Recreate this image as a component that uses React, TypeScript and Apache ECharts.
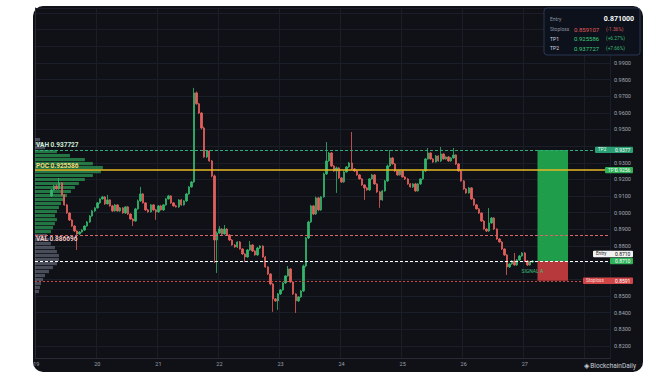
import React, { useEffect, useRef } from 'react';
import * as echarts from 'echarts';

// ---- axis / time labels ----
const dayLabels = ['19', '20', '21', '22', '23', '24', '25', '26', '27', '28'];
const hoursOnLastDay = 10;
const firstCandleHour = 6;

// ---- trade levels ----
const ENTRY = 0.871;
const STOP = 0.859107;
const TP1 = 0.925586;
const TP2 = 0.937727;
const VAH = 0.937727;
const POC = 0.925586;
const VAL = 0.886696;
const pctLabels = ['(-1.36%)', '(+6.27%)', '(+7.66%)'];
// axis ticks hidden behind the info box / price tags in the reference
const hiddenTicks = ['0.8600', '0.8700', '0.9400', '1.0000', '1.0100', '1.0200'];

// ---- hourly candles: closes per day, wicks in 0.0001 units ----
const open19 = 0.9101;
const close19 = [0.9137, 0.9161, 0.9143, 0.9179, 0.9107, 0.9047, 0.8998, 0.8956, 0.8920, 0.8890, 0.8872, 0.8884, 0.8896, 0.8920, 0.8944, 0.8980, 0.9011, 0.9029];
const up19 = [5, 6, 8, 30, 5, 4, 6, 4, 5, 4, 4, 6, 5, 4, 6, 5, 6, 4];
const dn19 = [6, 5, 4, 5, 6, 5, 4, 6, 5, 6, 96, 5, 4, 6, 4, 5, 4, 6];

const close20 = [0.9059, 0.9083, 0.9095, 0.9053, 0.9077, 0.9041, 0.9011, 0.9047, 0.9011, 0.9029, 0.8998, 0.9035, 0.8992, 0.8962, 0.8950, 0.9023, 0.9071, 0.9113, 0.9059, 0.9017, 0.9005, 0.9047, 0.9017, 0.9005];
const up20 = [5, 4, 6, 5, 30, 4, 6, 5, 4, 6, 5, 4, 6, 4, 5, 6, 8, 42, 5, 4, 6, 5, 4, 6];
const dn20 = [4, 6, 5, 6, 4, 5, 6, 4, 5, 6, 4, 5, 6, 5, 30, 4, 5, 6, 4, 6, 5, 4, 6, 48];

const close21 = [0.9041, 0.9017, 0.9047, 0.9083, 0.9101, 0.9059, 0.9041, 0.9035, 0.9077, 0.9047, 0.9071, 0.9113, 0.9155, 0.9185, 0.9720, 0.9654, 0.9599, 0.9509, 0.9335, 0.9371, 0.9311, 0.9221, 0.8836, 0.8878];
const up21 = [5, 6, 4, 5, 6, 4, 5, 6, 4, 6, 5, 6, 5, 6, 30, 8, 6, 5, 8, 6, 5, 6, 8, 10];
const dn21 = [5, 4, 6, 5, 4, 6, 5, 4, 6, 5, 4, 6, 5, 4, 6, 5, 6, 8, 5, 6, 5, 8, 138, 198];

const close22 = [0.8902, 0.8872, 0.8902, 0.8866, 0.8836, 0.8806, 0.8794, 0.8824, 0.8782, 0.8752, 0.8734, 0.8776, 0.8806, 0.8770, 0.8746, 0.8788, 0.8800, 0.8734, 0.8674, 0.8632, 0.8572, 0.8482, 0.8470, 0.8512];
const up22 = [18, 6, 24, 5, 4, 6, 5, 4, 6, 5, 4, 6, 24, 5, 4, 6, 5, 4, 6, 5, 4, 6, 5, 6];
const dn22 = [5, 6, 4, 5, 6, 4, 5, 6, 4, 5, 30, 4, 5, 6, 4, 5, 6, 4, 5, 6, 8, 78, 6, 54];

const close23 = [0.8536, 0.8578, 0.8620, 0.8662, 0.8584, 0.8512, 0.8470, 0.8494, 0.8530, 0.8680, 0.8848, 0.8944, 0.9041, 0.8992, 0.9089, 0.9017, 0.9095, 0.9233, 0.9311, 0.9359, 0.9281, 0.9251, 0.9269, 0.9209];
const up23 = [5, 6, 4, 18, 5, 6, 4, 5, 6, 8, 6, 8, 6, 5, 8, 6, 5, 8, 114, 6, 5, 6, 8, 5];
const dn23 = [6, 5, 6, 4, 5, 6, 72, 6, 5, 6, 8, 6, 5, 6, 5, 8, 6, 5, 6, 5, 6, 5, 132, 6];

const close24 = [0.9185, 0.9245, 0.9275, 0.9299, 0.9263, 0.9251, 0.9227, 0.9203, 0.9167, 0.9149, 0.9137, 0.9203, 0.9227, 0.9173, 0.9125, 0.9077, 0.9131, 0.9191, 0.9281, 0.9329, 0.9293, 0.9251, 0.9227, 0.9251];
const up24 = [5, 6, 5, 6, 186, 5, 4, 6, 5, 4, 6, 5, 6, 5, 4, 6, 5, 6, 8, 48, 5, 6, 4, 5];
const dn24 = [6, 5, 4, 6, 5, 6, 5, 4, 6, 72, 5, 6, 4, 5, 6, 48, 5, 4, 6, 5, 4, 6, 5, 4];

const close25 = [0.9215, 0.9203, 0.9173, 0.9155, 0.9173, 0.9131, 0.9173, 0.9203, 0.9251, 0.9323, 0.9359, 0.9323, 0.9305, 0.9341, 0.9311, 0.9353, 0.9323, 0.9335, 0.9311, 0.9329, 0.9347, 0.9293, 0.9251, 0.9191];
const up25 = [5, 4, 6, 5, 4, 6, 5, 4, 6, 5, 30, 4, 5, 6, 4, 42, 5, 4, 6, 5, 42, 4, 5, 6];
const dn25 = [4, 6, 5, 4, 6, 5, 4, 6, 5, 6, 4, 5, 6, 4, 5, 6, 4, 5, 6, 4, 5, 6, 5, 4];

const close26 = [0.9143, 0.9119, 0.9149, 0.9083, 0.9047, 0.9023, 0.8998, 0.8950, 0.8902, 0.8890, 0.8938, 0.8968, 0.8902, 0.8842, 0.8824, 0.8782, 0.8746, 0.8674, 0.8692, 0.8710, 0.8686, 0.8716, 0.8740, 0.8758];
const up26 = [5, 4, 6, 5, 4, 6, 5, 4, 6, 5, 90, 6, 5, 4, 6, 5, 4, 6, 5, 6, 48, 5, 6, 5];
const dn26 = [6, 5, 4, 6, 5, 4, 6, 5, 4, 6, 5, 4, 6, 5, 4, 6, 5, 48, 6, 5, 4, 6, 5, 4];

const close27 = [0.8710, 0.8686, 0.8704, 0.8710];
const up27 = [6, 5, 4, 5];
const dn27 = [5, 6, 4, 5];

// ---- volume profile (bin centre price, relative volume) ----
const profilePrice = [0.9437, 0.9413, 0.9389, 0.9365, 0.9341, 0.9317, 0.9293, 0.9269, 0.9245, 0.9221, 0.9197, 0.9173, 0.9149, 0.9125, 0.9101, 0.9077, 0.9053, 0.9029, 0.9005, 0.8980, 0.8956, 0.8932, 0.8908, 0.8884, 0.8860, 0.8836, 0.8812, 0.8788, 0.8764, 0.8740, 0.8716, 0.8692, 0.8668, 0.8644, 0.8620, 0.8596, 0.8572, 0.8548, 0.8524];
const profileVolume = [5, 8, 10, 22, 35, 50, 58, 68, 66, 58, 50, 44, 40, 36, 32, 30, 26, 24, 22, 20, 22, 20, 18, 16, 12, 14, 16, 20, 22, 24, 24, 22, 18, 14, 10, 8, 6, 5, 4];

const FONT = 'Roboto, "Noto Sans", sans-serif';

export default function App() {
  const ref = useRef<HTMLDivElement>(null);

  useEffect(() => {
    if (!ref.current) return;
    const chart = echarts.init(ref.current, undefined, { renderer: 'svg' });

    const categories: string[] = [];
    dayLabels.forEach((d, di) => {
      const n = di === dayLabels.length - 1 ? hoursOnLastDay : 24;
      for (let h = 0; h < n; h++) categories.push(`${d} ${String(h).padStart(2, '0')}`);
    });

    const closes = [...close19, ...close20, ...close21, ...close22, ...close23, ...close24, ...close25, ...close26, ...close27];
    const ups = [...up19, ...up20, ...up21, ...up22, ...up23, ...up24, ...up25, ...up26, ...up27];
    const dns = [...dn19, ...dn20, ...dn21, ...dn22, ...dn23, ...dn24, ...dn25, ...dn26, ...dn27];
    const candles: any[] = [];
    let prev = open19;
    closes.forEach((c, i) => {
      const o = prev;
      const hi = Math.max(o, c) + ups[i] * 0.0001;
      const lo = Math.min(o, c) - dns[i] * 0.0001;
      candles.push([categories[firstCandleHour + i], o, c, +lo.toFixed(5), +hi.toFixed(5)]);
      prev = c;
    });

    const profData = profilePrice.map((p, i) => [p, profileVolume[i]]);
    const volMax = Math.max(...profileVolume) / 0.118;
    const binHalf = 0.0012;

    const isDay = (_i: number, v: string) => v.endsWith(' 00');
    const isDayLabel = (_i: number, v: string) => v.endsWith(' 00') && !v.startsWith('28');

    chart.setOption({
      animation: false,
      backgroundColor: 'transparent',
      textStyle: { fontFamily: FONT },
      grid: { left: 35, right: 57, top: 8, bottom: 15 },
      xAxis: [
        {
          type: 'category',
          data: categories,
          boundaryGap: true,
          axisLine: { show: true, lineStyle: { color: '#262b36' } },
          axisTick: { show: false },
          axisLabel: {
            interval: isDayLabel,
            formatter: (v: string) => v.split(' ')[0],
            color: '#9aa0aa',
            fontSize: 5.5,
            margin: 3,
          },
          splitLine: { show: true, interval: isDay, lineStyle: { color: '#1a1e29', width: 1 } },
        },
        { type: 'value', min: 0, max: volMax, show: false },
      ],
      yAxis: {
        type: 'value',
        position: 'right',
        min: 0.8127,
        max: 1.023,
        splitNumber: 21,
        axisLine: { show: true, lineStyle: { color: '#262b36' } },
        axisTick: { show: false },
        axisLabel: {
          showMinLabel: false,
          showMaxLabel: false,
          formatter: (v: number) => {
            const s = v.toFixed(4);
            return hiddenTicks.includes(s) ? '' : s;
          },
          color: '#a3a8b2',
          fontSize: 5.5,
          margin: 4,
        },
        splitLine: { show: true, lineStyle: { color: '#1a1e29', width: 1 } },
      },
      series: [
        {
          type: 'custom',
          coordinateSystem: 'cartesian2d',
          xAxisIndex: 1,
          yAxisIndex: 0,
          z: 1,
          silent: true,
          encode: { x: 1, y: 0 },
          data: profData,
          renderItem: (_params: any, api: any) => {
            const price = api.value(0);
            const vol = api.value(1);
            const a = api.coord([0, price + binHalf]);
            const b = api.coord([vol, price - binHalf]);
            const inVA = price <= VAH && price >= VAL;
            return {
              type: 'rect',
              shape: { x: a[0], y: a[1], width: b[0] - a[0], height: Math.max(0.5, b[1] - a[1] - 0.8) },
              style: { fill: inVA ? 'rgba(44,160,86,0.72)' : 'rgba(130,138,156,0.5)' },
            };
          },
        },
        {
          type: 'candlestick',
          z: 3,
          barWidth: 1.9,
          dimensions: ['t', 'open', 'close', 'lowest', 'highest'],
          encode: { x: 0, y: [1, 2, 3, 4] },
          data: candles,
          itemStyle: {
            color: '#34b56b',
            color0: '#e2605c',
            borderColor: '#34b56b',
            borderColor0: '#e2605c',
            borderWidth: 0.8,
          },
          markLine: {
            silent: true,
            precision: 6,
            symbol: ['none', 'none'],
            z: 4,
            data: [
              {
                yAxis: VAH,
                lineStyle: { color: '#2fae7d', type: [3, 2], width: 1 },
                label: { show: true, position: 'insideStartTop', formatter: `VAH ${VAH.toFixed(6)}`, color: '#cde9d6', fontSize: 6.5, fontWeight: 'bold', distance: 1 },
              },
              {
                yAxis: POC,
                lineStyle: { color: '#e8b824', type: 'solid', width: 1.6 },
                label: { show: true, position: 'insideStartTop', formatter: `POC ${POC.toFixed(6)}`, color: '#f3d77a', fontSize: 6.5, fontWeight: 'bold', distance: 1 },
              },
              {
                yAxis: VAL,
                lineStyle: { color: '#d8666a', type: [3, 2], width: 1 },
                label: { show: true, position: 'insideStartBottom', formatter: `VAL ${VAL.toFixed(6)}`, color: '#f1c6c6', fontSize: 6.5, fontWeight: 'bold', distance: 1 },
              },
              { yAxis: ENTRY, lineStyle: { color: '#ffffff', type: [3, 2], width: 1 }, label: { show: false } },
              { yAxis: STOP, lineStyle: { color: '#c94848', type: [2, 2], width: 1 }, label: { show: false } },
            ],
          },
          markArea: {
            silent: true,
            data: [
              [
                { xAxis: '27 05', yAxis: TP2, itemStyle: { color: '#1f9d4b', opacity: 1 } },
                { xAxis: '27 17', yAxis: ENTRY },
              ],
              [
                { xAxis: '27 05', yAxis: ENTRY, itemStyle: { color: '#b8393b', opacity: 1 } },
                { xAxis: '27 17', yAxis: STOP },
              ],
            ],
          },
          markPoint: {
            silent: true,
            symbol: 'rect',
            symbolSize: [1, 1],
            itemStyle: { color: 'rgba(0,0,0,0)' },
            data: [
              {
                coord: ['27 03', 0.8648],
                label: { show: true, formatter: 'SIGNAL A', color: '#3fbf7f', fontSize: 5, position: 'inside' },
              },
            ],
          },
        },
      ],
    });

    const yOf = (v: number) => chart.convertToPixel({ yAxisIndex: 0 }, v) as number;
    const txt = (x: number, y: number, text: string, fill: string, size: number, align = 'left', weight = 'normal') => ({
      type: 'text',
      x,
      y,
      z: 100,
      style: {
        text,
        fill,
        fontSize: size,
        fontFamily: FONT,
        fontWeight: weight,
        align,
        textAlign: align,
        verticalAlign: 'middle',
        textVerticalAlign: 'middle',
      },
    });
    const tag = (yc: number, x0: number, bg: string, name: string, nameColor: string, val: string, valColor: string) => {
      const children: any[] = [
        { type: 'rect', z: 100, shape: { x: x0, y: yc - 3.2, width: 633 - x0, height: 6.4, r: 1 }, style: { fill: bg } },
        txt(615, yc, val, valColor, 5),
      ];
      if (name) children.push(txt(x0 + 3, yc, name, nameColor, 4.6));
      return { type: 'group', z: 100, children };
    };

    const yTP2 = yOf(TP2);
    const yTP1 = yOf(TP1);
    const yEntry = yOf(ENTRY);
    const yStop = yOf(STOP);

    chart.setOption({
      graphic: [
        tag(yTP2, 595, '#2a9f73', 'TP2', '#e6fff2', TP2.toFixed(4), '#ffffff'),
        tag(yTP1, 605, '#2fb259', 'TP1', '#e6fff2', TP1.toFixed(4), '#ffffff'),
        tag(yEntry - 7, 593, '#f2f2f2', 'Entry', '#222222', ENTRY.toFixed(4), '#111111'),
        tag(yEntry, 610, '#2fb259', '', '#ffffff', ENTRY.toFixed(4), '#ffffff'),
        tag(yStop, 583, '#d04646', 'Stoploss', '#ffd9d9', STOP.toFixed(4), '#ffffff'),
        {
          type: 'rect',
          z: 100,
          shape: { x: 544, y: 8, width: 96, height: 47, r: 3 },
          style: { fill: '#0c111b', stroke: '#2a3652', lineWidth: 1 },
        },
        txt(550, 19, 'Entry', '#8d94a1', 5),
        txt(634, 19, ENTRY.toFixed(6), '#ffffff', 7, 'right', 'bold'),
        txt(550, 29, 'Stoploss', '#8d94a1', 5),
        txt(574, 29, STOP.toFixed(6), '#e35b5b', 6),
        txt(606, 29, pctLabels[0], '#d85c5c', 4.8),
        txt(550, 38.5, 'TP1', '#d5d9e0', 5),
        txt(574, 38.5, TP1.toFixed(6), '#3fcd7c', 6),
        txt(606, 38.5, pctLabels[1], '#3fbf75', 4.8),
        txt(550, 48, 'TP2', '#d5d9e0', 5),
        txt(574, 48, TP2.toFixed(6), '#3fcd7c', 6),
        txt(606, 48, pctLabels[2], '#3fbf75', 4.8),
        txt(636, 366, '\u25C8 BlockchainDaily', '#c8ccd3', 6.5, 'right'),
      ],
    });

    return () => chart.dispose();
  }, []);

  return (
    <div style={{ position: 'fixed', left: 0, top: 0, width: 667, height: 373, background: '#ffffff', overflow: 'hidden' }}>
      <div style={{ position: 'absolute', left: 33, top: 6, width: 610, height: 366, background: '#0f1117', borderRadius: 10 }} />
      <div ref={ref} style={{ position: 'absolute', left: 0, top: 0, width: 667, height: 373 }} />
    </div>
  );
}
